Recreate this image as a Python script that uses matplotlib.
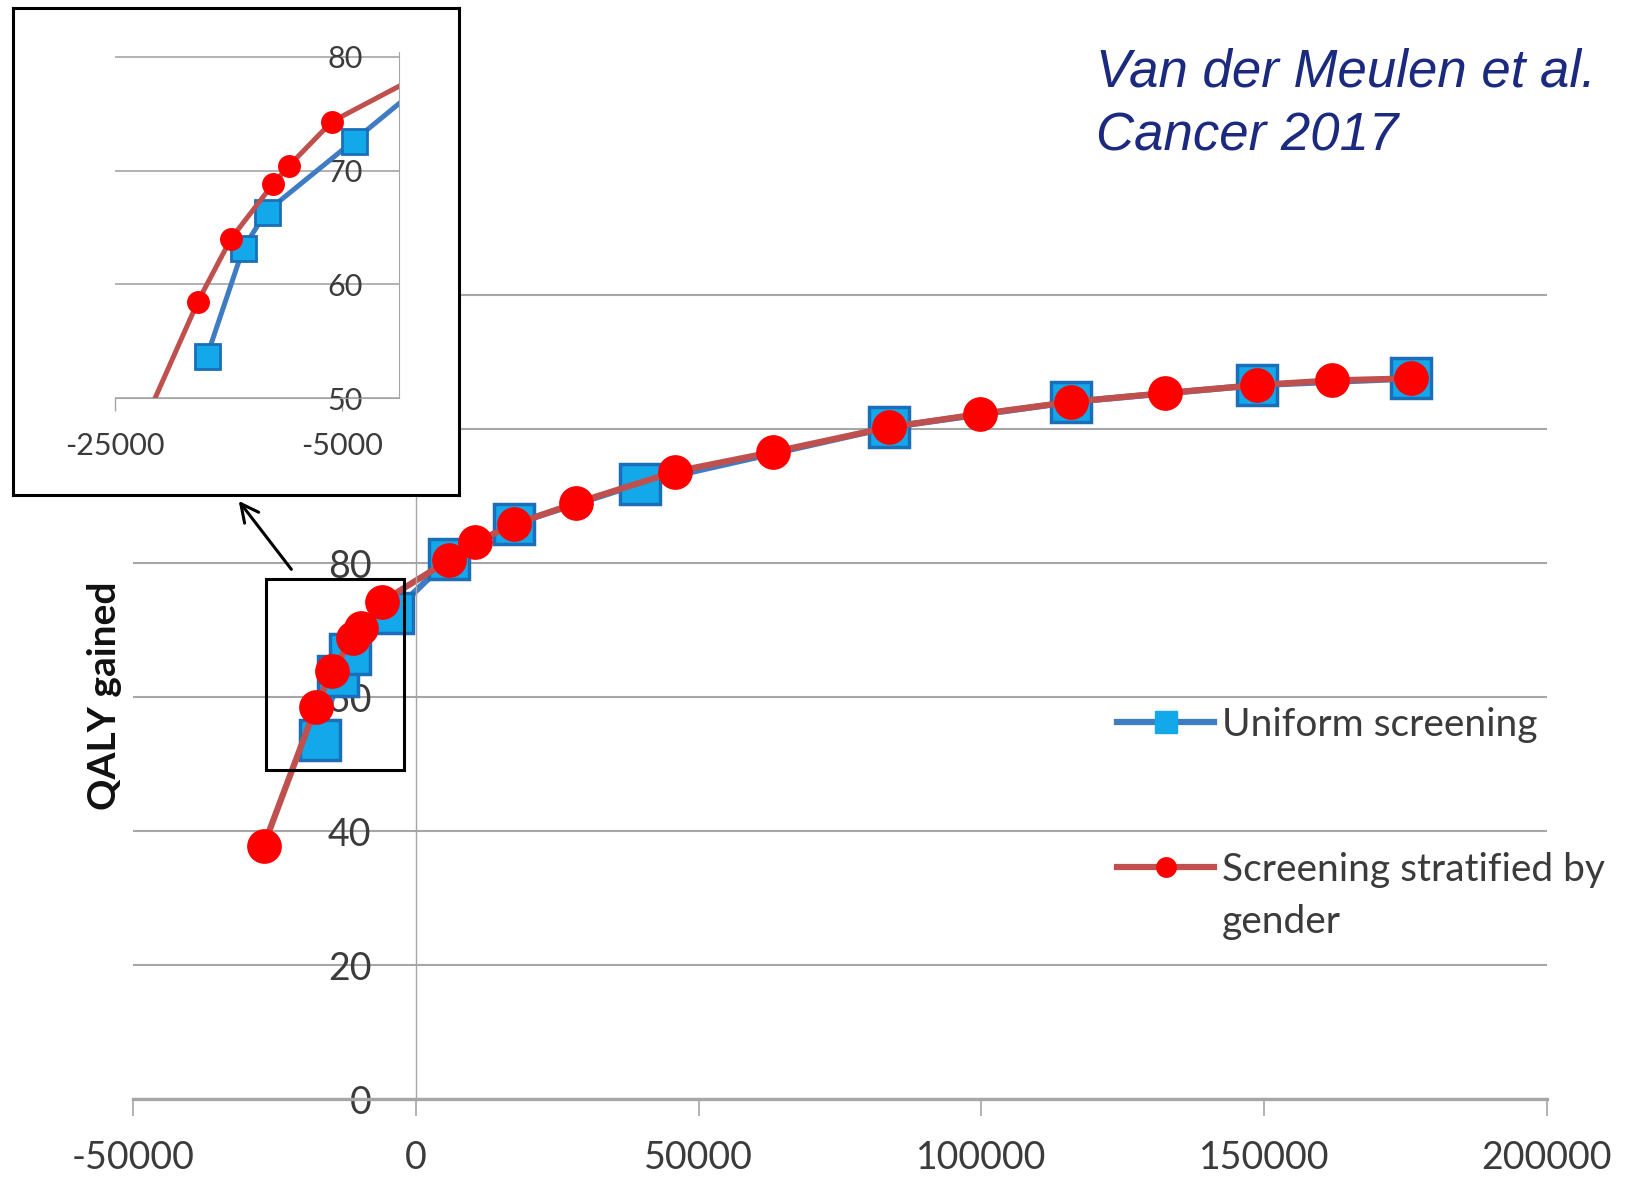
import matplotlib
matplotlib.use('Agg')
import matplotlib.pyplot as plt
from matplotlib.lines import Line2D
from matplotlib.patches import Rectangle, FancyArrowPatch

# incremental costs (x) and QALYs gained (y)
uniform_cost = [-16900, -13700, -11650, -4000, 5900, 17400, 39600, 83600, 115900, 148700, 176000]
uniform_qaly = [53.7, 63.2, 66.4, 72.6, 80.7, 85.9, 91.9, 100.3, 104.1, 106.6, 107.6]

stratified_cost = [-26900, -17700, -14800, -11100, -9700, -5900, 5900, 10500, 17400, 28300,
                   45900, 63100, 83600, 99800, 115900, 132400, 148700, 162000, 176000]
stratified_qaly = [37.8, 58.5, 64.0, 68.8, 70.4, 74.3, 80.5, 83.2, 85.8, 89.0,
                   93.7, 96.6, 100.3, 102.3, 104.1, 105.4, 106.6, 107.3, 107.6]

x_ticks = [-50000, 0, 50000, 100000, 150000, 200000]
y_ticks = [0, 20, 40, 60, 80, 100, 120]
# 100 and 120 sit behind the inset in the original, so no label shows there
y_tick_labels = ['0', '20', '40', '60', '80', '', '']
inset_x_ticks = [-25000, -5000]
inset_y_ticks = [50, 60, 70, 80]
# region of the main chart shown enlarged in the inset
zoom_box = (-26400, 49.1, 24400, 28.6)

legend_labels = ['Uniform screening', 'Screening stratified by']
legend_wrap = 'gender'
note_text = 'Van der Meulen et al.\nCancer 2017'

BLUE_LINE = '#3f7cc2'
BLUE_FILL = '#13a8ea'
BLUE_EDGE = '#1a6fb8'
RED_LINE = '#c0504d'
RED_DOT = '#ff0000'
GRID = '#a6a6a6'
TXT = '#3b3b3b'

plt.rcParams['font.family'] = ['Lato', 'DejaVu Sans']
plt.rcParams['axes.unicode_minus'] = False


def draw_series(a, lw, ms_sq, ms_dot, mew):
    a.plot(uniform_cost, uniform_qaly, '-', color=BLUE_LINE, lw=lw, marker='s', ms=ms_sq,
           mfc=BLUE_FILL, mec=BLUE_EDGE, mew=mew, solid_capstyle='round')
    a.plot(stratified_cost, stratified_qaly, '-', color=RED_LINE, lw=lw, marker='o', ms=ms_dot,
           mfc=RED_DOT, mec=RED_DOT, mew=0, solid_capstyle='round')


fig = plt.figure(figsize=(16.29, 11.77), dpi=100, facecolor='w')

# main chart
ax = fig.add_axes([0.0816, 0.066, 0.868, 0.6865])
draw_series(ax, 4.5, 29, 25, 2.5)
ax.set_xlim(-50000, 200000)
ax.set_ylim(0, 120.6)
ax.set_xticks(x_ticks)
ax.set_yticks(y_ticks)
ax.set_yticklabels(y_tick_labels)
ax.grid(axis='y', color=GRID, lw=1.5)
ax.set_axisbelow(True)
ax.spines['top'].set_visible(False)
ax.spines['right'].set_visible(False)
ax.spines['left'].set_position(('data', 0))
ax.spines['left'].set_color(GRID)
ax.spines['left'].set_linewidth(1.0)
ax.spines['bottom'].set_color(GRID)
ax.spines['bottom'].set_linewidth(2.4)
ax.tick_params(axis='x', length=12, width=1.2, color=GRID, pad=17, labelsize=27, labelcolor=TXT)
ax.tick_params(axis='y', length=0, pad=32, labelsize=27, labelcolor=TXT)

ax.add_patch(Rectangle(zoom_box[:2], zoom_box[2], zoom_box[3], fill=False, ec='black', lw=2.2, zorder=5))

leg_handles = [
    Line2D([], [], color=BLUE_LINE, lw=4.5, marker='s', ms=16, mfc=BLUE_FILL, mec=BLUE_FILL, mew=1),
    Line2D([], [], color=RED_LINE, lw=4.5, marker='o', ms=15, mfc=RED_DOT, mec=RED_DOT, mew=0),
]
leg = ax.legend(leg_handles, legend_labels, loc='upper left', bbox_to_anchor=(0.6857, 0.3997),
                bbox_transform=fig.transFigure, frameon=False, fontsize=28, handlelength=2.5,
                handletextpad=0.2, labelspacing=2.81, borderpad=0, borderaxespad=0, labelcolor=TXT)
# second legend label wraps onto a line of its own, under the text (handle stays on line 1);
# zorder above the legend so it is placed after the legend has been laid out
ax.annotate(legend_wrap, xy=(0, 0.5), xycoords=leg.get_texts()[1], xytext=(0, -37.4),
            textcoords='offset points', ha='left', va='center', fontsize=28, color=TXT,
            zorder=10)

fig.text(0.064, 0.4087, 'QALY gained', rotation=90, ha='center', va='center',
         fontsize=28, fontweight='bold', color='#111111')

# inset frame + enlarged view
box = fig.add_axes([0.0077, 0.5798, 0.2741, 0.4132])
box.set_xticks([])
box.set_yticks([])
box.set_facecolor('white')
for s in box.spines.values():
    s.set_linewidth(2.2)
    s.set_color('black')

ins = fig.add_axes([0.0706, 0.6616, 0.1743, 0.2941])
ins.set_facecolor('white')
draw_series(ins, 3.6, 18, 16.5, 2)
ins.set_xlim(-25000, 0)
ins.set_ylim(50, 80.4)
ins.set_xticks(inset_x_ticks)
ins.set_yticks(inset_y_ticks)
ins.grid(axis='y', color=GRID, lw=1.2)
ins.set_axisbelow(True)
ins.spines['top'].set_visible(False)
ins.spines['right'].set_visible(False)
ins.spines['left'].set_position(('data', 0))
ins.spines['left'].set_color(GRID)
ins.spines['bottom'].set_color(GRID)
ins.tick_params(axis='x', length=9, width=1, color=GRID, pad=15, labelsize=22, labelcolor=TXT)
ins.tick_params(axis='y', length=0, pad=26, labelsize=22, labelcolor=TXT)

arrow = FancyArrowPatch((0.1799, 0.5144), (0.1455, 0.5763), transform=fig.transFigure,
                        arrowstyle='->', mutation_scale=32, lw=2.2, color='black')
fig.add_artist(arrow)

fig.text(0.6728, 0.960, note_text, ha='left', va='top', fontsize=38, style='italic',
         family='Liberation Sans', color='#1b2a7f', linespacing=1.36)

fig.savefig('out.png', dpi=100, facecolor='w')
